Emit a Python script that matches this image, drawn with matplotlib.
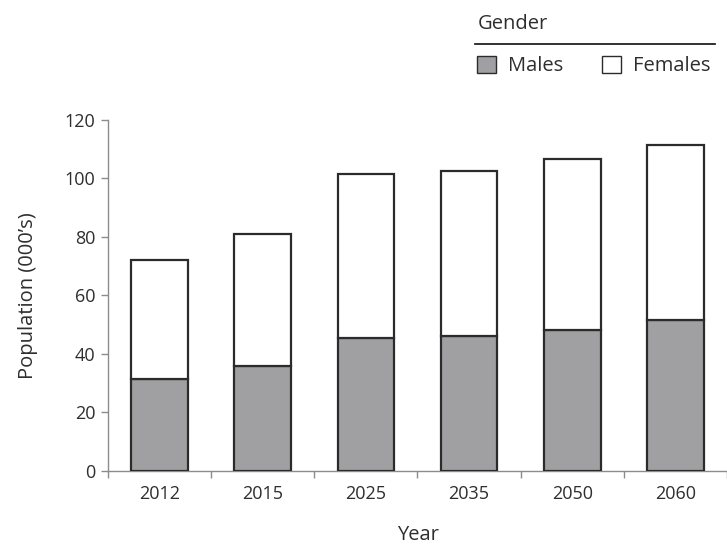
import matplotlib
matplotlib.use("Agg")
import matplotlib.pyplot as plt
from matplotlib.lines import Line2D

# ---------------------------------------------------------------------------
# Data (population in thousands)
# ---------------------------------------------------------------------------
years = ["2012", "2015", "2025", "2035", "2050", "2060"]
males = [31.5, 36.0, 45.5, 46.0, 48.0, 51.5]
totals = [72.0, 81.0, 101.5, 102.5, 106.5, 111.5]
females = [t - m for t, m in zip(totals, males)]

yticks = [0, 20, 40, 60, 80, 100, 120]

plt.rcParams["font.family"] = ["Open Sans", "DejaVu Sans"]

TEXT = "#2e2e2e"
EDGE = "#2b2b2b"
GREY = "#a0a0a2"
SPINE = "#8c8c8c"

W, H = 727, 544
fig = plt.figure(figsize=(W / 100, H / 100), dpi=100)

# axes placed in pixel terms: y-axis at x=108, zero line at y=471, 120 at y=120
left, bottom, top = 108, 471, 119.7
ax = fig.add_axes([left / W, (H - bottom) / H, (W - left) / W, (bottom - top) / H])

x = list(range(len(years)))
bw = 0.55
ax.bar(x, males, width=bw, color=GREY, edgecolor=EDGE, linewidth=1.6,
       label="Males", zorder=3)
ax.bar(x, females, width=bw, bottom=males, color="white", edgecolor=EDGE,
       linewidth=1.6, label="Females", zorder=3)

# category width ~104.5 px -> right limit clipped at figure edge
ax.set_xlim(-0.5, -0.5 + (W - left) / 104.5)
ax.set_ylim(0, 120)

for s in ["top", "right"]:
    ax.spines[s].set_visible(False)
for s in ["left", "bottom"]:
    ax.spines[s].set_color(SPINE)
    ax.spines[s].set_linewidth(1.0)

ax.set_xticks(x)
ax.set_xticklabels(years)
ax.set_xticks([i - 0.5 for i in range(len(years) + 1)], minor=True)
ax.tick_params(axis="x", which="major", length=0, pad=10,
               labelsize=13, labelcolor=TEXT)
ax.tick_params(axis="x", which="minor", length=5, width=1.0, color=SPINE,
               direction="out")

ax.set_yticks(yticks)
ax.tick_params(axis="y", length=5, width=1.0, color=SPINE, pad=4,
               labelsize=13, labelcolor=TEXT)

ax.set_ylabel("Population (000\u2019s)", fontsize=14.5, color=TEXT, labelpad=19)
ax.set_xlabel("Year", fontsize=14.5, color=TEXT, labelpad=16)

# legend block: title, rule, entries
fig.text(478 / W, 1 - 24 / H, "Gender", fontsize=14.5, color=TEXT,
         ha="left", va="center")
fig.add_artist(Line2D([475 / W, 715 / W], [1 - 44 / H, 1 - 44 / H],
                      color="#222222", linewidth=1.3))
handles, labels = ax.get_legend_handles_labels()
leg = fig.legend(handles, labels, loc="center left",
                 bbox_to_anchor=(477 / W, 1 - 66 / H), ncol=2, frameon=False,
                 fontsize=14.5, handlelength=0.95, handleheight=0.95,
                 handletextpad=0.6, columnspacing=1.9, borderpad=0,
                 borderaxespad=0)
for t in leg.get_texts():
    t.set_color(TEXT)
for h in leg.legend_handles:
    h.set_linewidth(1.0)

fig.savefig("out.png", dpi=100)
